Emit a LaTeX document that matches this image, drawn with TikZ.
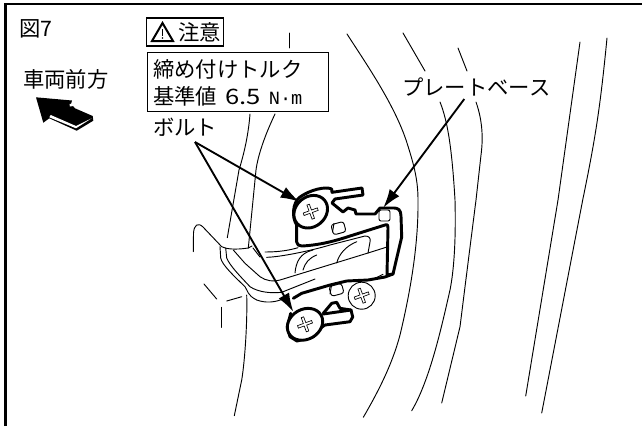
\documentclass[tikz,border=0pt]{standalone}
\usepackage{graphicx}
\usepackage{fontspec}
\setmainfont{Noto Sans CJK JP}
\newfontfamily\narrowfont{Liberation Mono}
\usetikzlibrary{arrows.meta}

\tikzset{
  thinline/.style={line width=0.7pt,line cap=round,line join=round},
  heavyline/.style={line width=2.2pt,line cap=round,line join=round},
  leader/.style={line width=1.4pt,-{Latex[length=14pt,width=9pt]}},
  caption/.style={inner sep=0pt,font=\fontsize{16pt}{20pt}\selectfont},
  labelbox/.style={draw,line width=0.8pt,inner sep=0pt}
}

\begin{document}
\begin{tikzpicture}[x=0.75pt,y=-0.75pt]
      \useasboundingbox (0,0) rectangle (642,426);
      \draw[line width=2pt] (5.5,426) -- (5.5,4) -- (642,4);

      % body lines on the left
      \draw[thinline] (289,33) -- (289,48);
      \draw[thinline] (250,114) .. controls (248,140) and (242,160) .. (239,170) -- (227.3,237.7);
      \draw[thinline] (275,114) .. controls (265,135) and (258,155) .. (256,170) -- (248.3,248);
      \draw[thinline] (193.3,251.7) -- (193.5,233) .. controls (194,225) and (198,222) .. (203,227) -- (221.7,246.7) .. controls (226,249) and (235,250) .. (248.3,248) -- (252,246);
      \draw[thinline] (253,248) -- (260,257);
      \draw[thinline] (220,246.7) -- (220.7,258) .. controls (222,265) and (235,277) .. (245,286.7) .. controls (248,291) and (247,295) .. (256.7,300) .. controls (265,303) and (275,303) .. (285,298);
      \draw[thinline] (225.7,248) -- (226.7,258) .. controls (230,266) and (240,276) .. (250,286.7) .. controls (258,292) and (270,293.5) .. (281.7,292.3) -- (315,279);
      \draw[thinline] (233.3,250) -- (245,263.3) -- (260,276.7) .. controls (266,281) and (274,282) .. (280,280) -- (368,253);
      \draw[thinline] (204,284) -- (216.7,299);
      \draw[thinline] (226.7,301) -- (241.7,296.7);
      \draw[thinline] (221.7,307.3) -- (221.7,327.3);
      \draw[thinline] (246.7,295) .. controls (247.5,320) and (245,360) .. (241.7,380) -- (234.3,415.7);

      % body lines on the right
      \draw[thinline] (347,34) .. controls (365,62) and (395,105) .. (407,143) .. controls (414,165) and (418,180) .. (418,200) .. controls (418.5,240) and (412,285) .. (400,335) .. controls (392,365) and (378,392) .. (363.3,417.3);
      \draw[thinline] (403,33) -- (425,71);
      \draw[thinline] (440,102) .. controls (448,122) and (452,150) .. (455,200) .. controls (456,240) and (454,270) .. (450,290) .. controls (442,325) and (430,380) .. (411.7,410.7);
      \draw[thinline] (458,48) -- (467,71);
      \draw[thinline] (476,102) .. controls (483,122) and (483,140) .. (481,155) -- (476,200) -- (468,263) -- (460,326.7) -- (441.7,403);
      \draw[thinline] (580,42) -- (558,200) -- (525.7,396);
      \draw[thinline] (607,38) .. controls (600,110) and (595,140) .. (582.7,200) -- (541.7,413);

      % window of the plate
      \draw[thinline] (265,252) .. controls (280,252) and (290,250) .. (298,247.7);
      \draw[thinline] (266.7,257.3) .. controls (280,257) and (310,251) .. (330,245) -- (365,236) .. controls (369,236) and (371,238) .. (370,242) -- (368,253);
      \draw[thinline] (295,273) .. controls (296,262) and (300,253) .. (313,250);
      \draw[thinline] (303,270) .. controls (305,263) and (309,258) .. (316.7,255);
      \draw[thinline] (336.7,263) .. controls (339,254) and (346,246) .. (356.7,241.7);
      \draw[thinline] (368,253) -- (387,247);
      \draw[thinline] (371.7,280) -- (383,274.3);

      % plate
      \draw[heavyline] (296.7,225) -- (296.7,242) .. controls (297,245) and (299,246) .. (302,246) .. controls (320,245) and (335,241) .. (350,236) -- (385,225) .. controls (388,224) and (388,226) .. (388,228) -- (387,275) -- (393,274) -- (401.7,237) -- (401,216) .. controls (401,210) and (398,208) .. (394,208) -- (380,208) -- (375,214) -- (356,214) -- (355,210) -- (348,208) -- (343,212) -- (332,203) -- (335,199) -- (363,195) -- (362,188) -- (332,192.3) -- (331.7,189) .. controls (325,186) and (310,190) .. (300,197) .. controls (292,203) and (292,218) .. (296.7,225);
      \draw[heavyline] (293.3,298.3) -- (301.7,293.3) -- (330,285) -- (346.7,281) -- (368,280) -- (385,277) -- (393,274);
      \draw[heavyline,fill=white] (323.3,313.3) -- (331.7,303.3) -- (336.7,302.3) -- (340,308.3) -- (351,310) -- (352.7,317) -- (350,321.7) -- (325,325) -- (320,328.3) -- (313.3,336.7) -- (297,341) -- (290,336.7) -- (287.3,326.7) -- (290.7,313.3);
      \draw[heavyline] (323.3,314) -- (351,310);

      % holes and the small boss
      \draw[thinline,fill=white,rounded corners=2pt,rotate around={15:(338.3,228.3)}] (332,223) rectangle (345,233.5);
      \draw[thinline] (334,223.5) -- (332.5,232);
      \draw[thinline,fill=white,rounded corners=2pt,rotate around={15:(336,290)}] (330,285) rectangle (343,295);
      \draw[thinline] (331.5,285.5) -- (330,294);
      \draw[thinline,fill=white,rounded corners=1.5pt] (379,210) rectangle (390,221);

      % screws
      \draw[heavyline,fill=white,rotate around={40:(310.7,211.7)}] (310.7,211.7) ellipse (18 and 15);
      \draw[heavyline,fill=white,rotate around={30:(305,324.3)}] (305,324.3) ellipse (18.5 and 15);
      \draw[thinline,fill=white] (361.7,295.7) circle (13.5);
      \foreach \crossx/\crossy in {310.7/211.7,305/324.3,361.7/295.7} {
        \draw[line width=0.5pt,fill=white,rotate around={20:(\crossx,\crossy)},shift={(\crossx,\crossy)}]
          (-1.3,-7.5) -- (1.3,-7.5) -- (1.3,-1.3) -- (7.5,-1.3) -- (7.5,1.3) -- (1.3,1.3) -- (1.3,7.5) -- (-1.3,7.5) -- (-1.3,1.3) -- (-7.5,1.3) -- (-7.5,-1.3) -- (-1.3,-1.3) -- cycle;
      }

      % texts
      \node[caption,anchor=west] (figno) at (19,29) {図7};
      \node[caption,anchor=west] (front) at (23,79) {車両前方};
      \node[labelbox,minimum width=58pt,minimum height=21pt] (caution) at (185,32) {};
      \node[caption,anchor=west] (cautiontext) at (178,32) {注意};
      \node[labelbox,minimum width=136pt,minimum height=44.5pt,anchor=north west] (torque) at (146.5,52) {};
      \node[caption,anchor=west] (torquetop) at (153,69) {締め付けトルク};
      \node[caption,anchor=west] (torquebottom) at (153,96) {基準値\hspace{6pt}\scalebox{1.2}[1]{6.5}\hspace{6pt}{\narrowfont\fontsize{14pt}{14pt}\selectfont N·m}};
      \node[caption,anchor=west] (bolt) at (153,127) {ボルト};
      \node[caption,anchor=west] (base) at (402,87) {プレートベース};

      % warning sign
      \draw[line width=1.5pt,line join=miter] (162.5,23) -- (173,41) -- (152,41) -- cycle;
      \draw[line width=1pt] (162.5,29) -- (162.5,35.5);
      \fill (162.5,38) circle (0.9);

      % arrow on the front side
      \fill (36,97.3) -- (72,100.5) -- (71,104) -- (75,108.3) -- (92.7,116) -- (93.3,120.7) -- (76.7,130.7) -- (49.3,118.3) -- (43.3,122.7) -- cycle;
      \fill[white] (50.7,115) -- (76,126) -- (91.7,118.3) -- (76,128.3) -- (49.3,117.3) -- cycle;
      \fill[white] (69.5,104) -- (72.5,103.5) -- (73,106) -- (70,106.5) -- cycle;

      % leaders
      \coordinate (boltfork) at (195,142);
      \coordinate (upperhead) at (299.3,201.7);
      \coordinate (lowerhead) at (293.3,311.7);
      \coordinate (baseroot) at (464.3,99);
      \coordinate (basetip) at (383.3,207.7);
      \draw[leader] (boltfork) -- (upperhead);
      \draw[leader] (boltfork) -- (lowerhead);
      \draw[leader] (baseroot) -- (basetip);
\end{tikzpicture}
\end{document}
